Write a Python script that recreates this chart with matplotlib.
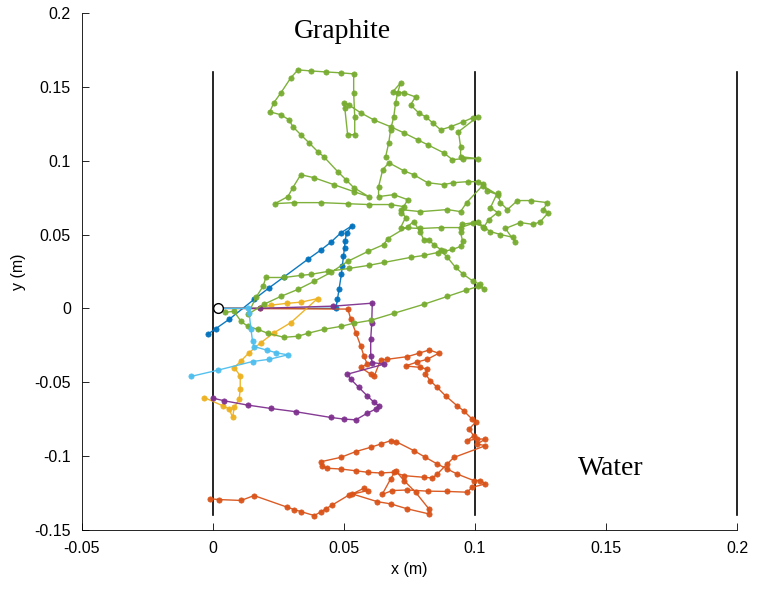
import numpy as np
import matplotlib.pyplot as plt

# neutron paths, positions (mm)
blue_x = [2, 46.9, 47.5, 48.1, 49.0, 49.4, 49.8, 50.2, 50.4, 51.0, 53.2, 48.8, 45.0, 41.1, 36.1,
          27.2, 21.5, 15.7, 6.2, 1.1, -2.0]
blue_y = [0, 0, 6, 12.8, 23, 29, 35.3, 41, 45.5, 51, 56.1, 51.1, 44.8, 39.4, 33.1,
          21.4, 14, 6.1, -7.4, -13.7, -17.6]

orange_x = [2, 51.5, 52.6, 54.5, 56.4, 57.6, 58.9, 56.4, 60.2, 61.5, 64.0, 66.5, 74.2, 78.6, 82.5,
            86.2, 81.8, 78.0, 73.5, 79.2, 81.8, 81.1, 83.0, 85.6, 88.8, 93.2, 95.7, 98.9, 100.2,
            97.7, 99.5, 97.0, 100.8, 104.0, 100.8, 104.0, 91.9, 89.4, 85.6, 83.7, 80.5, 72.9, 69.1,
            64.0, 59.0, 54.5, 48.8, 43.7, 41.8, 41.1, 48.8, 54.5, 60.2, 64.0, 67.8, 70.0, 76.7,
            81.1, 85.6, 89.4, 93.2, 99.5, 102.1, 104.0, 98.9, 97.0, 89.4, 82.0, 74.2, 68.4, 64.6,
            67.8, 69.7, 72.9, 77.3, 82.4, 82.4, 74.2, 67.8, 62.7, 53.2, 57.6, 59.0, 51.9, 45.6,
            43.0, 41.1, 38.6, 33.5, 31.0, 28.4, 15.7, 10.7, 2.4, -1.0]
orange_y = [0, -0.5, -7.4, -16.4, -25.5, -32.2, -37.8, -40.0, -44.6, -46.1, -34.9, -34.5, -32.7, -30.4,
            -28.2, -30.4, -34.5, -36.3, -39.0, -40.0, -41.2, -44.6, -49.1, -53.6, -59.3, -66.0,
            -69.4, -75.0, -77.2, -81.8, -86.3, -89.6, -88.5, -88.5, -91.9, -93.0, -101.0, -105.4,
            -112.2, -114.9, -114.4, -113.3, -111.0, -111.5, -111.0, -110.0, -108.8, -108.3,
            -107.0, -103.9, -100.9, -97.0, -94.1, -91.9, -89.6, -90.4, -96.4, -100.9, -105.4,
            -108.8, -112.2, -116.6, -116.6, -118.9, -121.2, -124.5, -124.0, -123.8, -123.0,
            -123.4, -126.0, -115.5, -110.0, -116.6, -124.5, -135.8, -139.2, -135.8, -132.4,
            -130.9, -125.7, -121.8, -123.4, -126.4, -133.1, -135.8, -138.0, -140.3, -137.6,
            -136.3, -134.7, -126.8, -130.1, -129.5, -129.0]

yellow_x = [2, 18.0, 22.1, 28.4, 33.6, 39.9, 29.7, 23.4, 18.3, 13.8, 10.7, 8.1, 10.4, 10.4, 10.0,
            8.1, 7.5, 6.2, 3.7, -3.3]
yellow_y = [0, 0, 2.2, 3.4, 4.2, 6.6, -9.7, -16.4, -23.2, -30.0, -35.6, -40.1, -45.7, -54.7, -61.5,
            -67.1, -73.9, -68.2, -66.0, -60.4]

purple_x = [2, 18, 46, 60.8, 60.6, 60.2, 60.2, 60.8, 65.3, 51.3, 52.6, 55.7, 58.9, 61.5, 63.4, 62.1,
            58.9, 54.5, 50.0, 45.0, 31.6, 22.1, 13.2, 4.3, -0.1]
purple_y = [0, 0, 1.5, 3.5, -9.7, -21.0, -32.2, -36.7, -37.8, -44.6, -48.0, -53.6, -59.3, -63.7,
            -66.0, -68.2, -71.0, -75.5, -75.0, -73.9, -70.0, -67.8, -65.5, -62.6, -60.8]

green_x = [2, 4.6, 8.0, 10.7, 13.3, 17.1, 20.9, 27.1, 32.4, 36.2, 42.3, 48.8, 53.7, 60.2, 69.0, 80.4,
           89.5, 96.4, 101.3, 103.6, 102.1, 99.4, 95.6, 92.6, 89.5, 86.9, 85.7,
           80.4, 75.4, 65.2, 59.4, 51.8, 43.8, 37.3, 33.5, 27.1, 20.2, 19.1, 16.4, 13.3,
           19.4, 25.9, 32.4, 38.5, 45.0, 51.4, 59.1, 65.2, 66.7, 74.3, 76.6,
           79.2, 80.4, 82.3, 84.2, 88.0, 91.4, 94.5, 95.3, 94.5, 94.9, 99.4, 102.9, 105.9, 109.7,
           114.7, 115.4, 111.6, 117.3, 122.3, 125.0, 128.0, 126.1, 127.6, 121.2, 116.2, 112.4,
           109.7, 108.6, 105.9, 108.6, 105.2, 103.3, 101.3, 94.5, 86.9, 79.2, 71.6, 73.5, 71.6,
           79.2, 89.5, 94.5, 96.8, 102.9, 108.6, 104.4, 102.9,
           101.0, 97.2, 91.8, 88.0, 81.9, 76.6, 72.8, 67.1,
           64.8, 63.2, 63.2, 69.0, 74.3, 71.6, 72.8,
           67.8, 59.4, 51.4, 41.1, 30.9, 23.6, 28.6, 30.5, 33.5, 38.5, 46.1, 53.7, 59.4,
           53.7, 50.7, 47.6, 42.3, 40.0, 36.6, 33.5, 30.5, 29.0, 25.9, 21.7,
           23.2, 25.9, 29.7, 32.4, 37.3, 43.1, 48.8, 53.7, 53.7, 54.1, 54.1, 51.4, 50.3, 49.9, 51.8,
           56.4, 61.3, 67.8, 72.8, 78.1, 81.9, 88.0, 91.4, 95.6, 101.3, 94.5, 94.5, 93.7, 101.0,
           99.1, 95.6, 90.7, 86.9, 83.8, 81.2, 78.5, 75.4, 77.3, 72.8, 68.6, 71.6,
           70.5, 69.7, 69.0, 67.8, 67.1, 65.9]
green_y = [0, -2.7, -2.0, -8.8, -12.2, -14.2, -16.9, -19.6, -18.9, -16.9, -14.2, -12.2, -10.1, -8.1, -3.4, 2.7,
           8.1, 12.2, 14.9, 12.8, 16.2, 18.2, 23.0, 27.7, 34.5, 39.2, 37.8,
           35.8, 34.5, 31.1, 29.1, 27.0, 25.0, 23.0, 22.3, 20.9, 20.9, 14.9, 7.4, -4.1,
           2.7, 8.1, 12.8, 18.2, 24.3, 31.8, 38.5, 43.2, 47.3, 55.4, 58.8,
           51.4, 46.6, 46.6, 43.2, 38.5, 39.9, 41.9, 45.3, 51.4, 56.8, 58.1, 55.4, 52.0, 50.0,
           48.0, 44.6, 54.1, 58.1, 56.8, 58.8, 64.9, 66.9, 71.6, 73.0, 73.0, 66.9,
           71.6, 78.4, 68.2, 64.9, 60.1, 54.7, 58.8, 54.7, 54.7, 54.1, 54.7, 61.5, 66.9,
           65.5, 66.9, 65.5, 71.6, 83.1, 77.0, 79.7, 84.5,
           85.8, 85.8, 85.1, 83.8, 85.1, 90.5, 93.2, 98.6,
           93.9, 82.4, 75.7, 77.0, 73.6, 64.9, 68.9,
           70.3, 70.3, 70.9, 71.6, 71.6, 70.9, 75.7, 81.8, 90.5, 88.5, 83.8, 79.1, 75.7,
           81.8, 87.2, 92.6, 102.7, 106.1, 112.2, 117.6, 123.0, 127.7, 131.1, 133.1,
           139.2, 145.9, 156.1, 161.5, 160.8, 160.1, 159.5, 158.8, 145.9, 129.7, 117.6, 117.6, 135.8, 139.2, 137.8,
           132.4, 127.7, 123.0, 118.9, 114.2, 110.8, 105.4, 100.7, 101.4, 101.4, 102.7, 109.5, 119.6, 129.7,
           129.1, 126.4, 123.0, 120.9, 125.7, 129.7, 132.4, 137.8, 143.2, 146.0, 146.6, 152.7,
           146.0, 139.2, 129.7, 121.0, 112.2, 102.7]

lightblue_x = [2, 13.5, 13.8, 14.5, 15.1, 15.7, 20.8, 24.0, 28.5, 21.5, 15.1, 1.8, -8.4]
lightblue_y = [0, 0, -3.0, -14.2, -22.1, -25.9, -28.4, -30.0, -31.5, -34.5, -36.0, -41.9, -46.1]

paths = [(blue_x, blue_y, '#0072BD'), (orange_x, orange_y, '#D95319'),
         (yellow_x, yellow_y, '#EDB120'), (purple_x, purple_y, '#7E2F8E'),
         (green_x, green_y, '#77AC30'), (lightblue_x, lightblue_y, '#4DBEEE')]

boundaries = [0, 0.1, 0.2]

plt.rcParams['font.family'] = ['Liberation Sans', 'DejaVu Sans']
fig = plt.figure(figsize=(7.59, 5.92), dpi=100)
ax = fig.add_axes([0.108, 0.105, 0.863, 0.873])

for b in boundaries:
    ax.plot([b, b], [-0.14, 0.16], color='black', lw=1.2, clip_on=False)

for x, y, c in paths:
    ax.plot(np.array(x[1:]) / 1000, np.array(y[1:]) / 1000, 'o', color=c,
            ms=3.8, mec=c, mfc=c, mew=0.5, alpha=0.95)
    ax.plot(np.array(x) / 1000, np.array(y) / 1000, '-', color=c, lw=1, alpha=0.95)

ax.plot(0.002, 0, 'o', mfc='white', mec='black', ms=7, mew=1)

ax.text(0.0495, 0.1875, 'Graphite', family='Liberation Serif', fontsize=20, ha='center', va='center')
ax.text(0.152, -0.1085, 'Water', family='Liberation Serif', fontsize=20, ha='center', va='center')

ax.set_xlim(-0.05, 0.2)
ax.set_ylim(-0.15, 0.2)
ax.set_xticks([-0.05, 0, 0.05, 0.1, 0.15, 0.2])
ax.set_xticklabels(['-0.05', '0', '0.05', '0.1', '0.15', '0.2'])
ax.set_yticks([-0.15, -0.1, -0.05, 0, 0.05, 0.1, 0.15, 0.2])
ax.set_yticklabels(['-0.15', '-0.1', '-0.05', '0', '0.05', '0.1', '0.15', '0.2'])
ax.tick_params(direction='in', labelsize=11.5, length=5, width=0.6, pad=8)
ax.spines['top'].set_visible(False)
ax.spines['right'].set_visible(False)
ax.spines['left'].set_linewidth(0.6)
ax.spines['bottom'].set_linewidth(0.6)
ax.set_xlabel('x (m)', fontsize=11.5, labelpad=4)
ax.set_ylabel('y (m)', fontsize=11.5, labelpad=6)

fig.savefig('out.png', dpi=100)
